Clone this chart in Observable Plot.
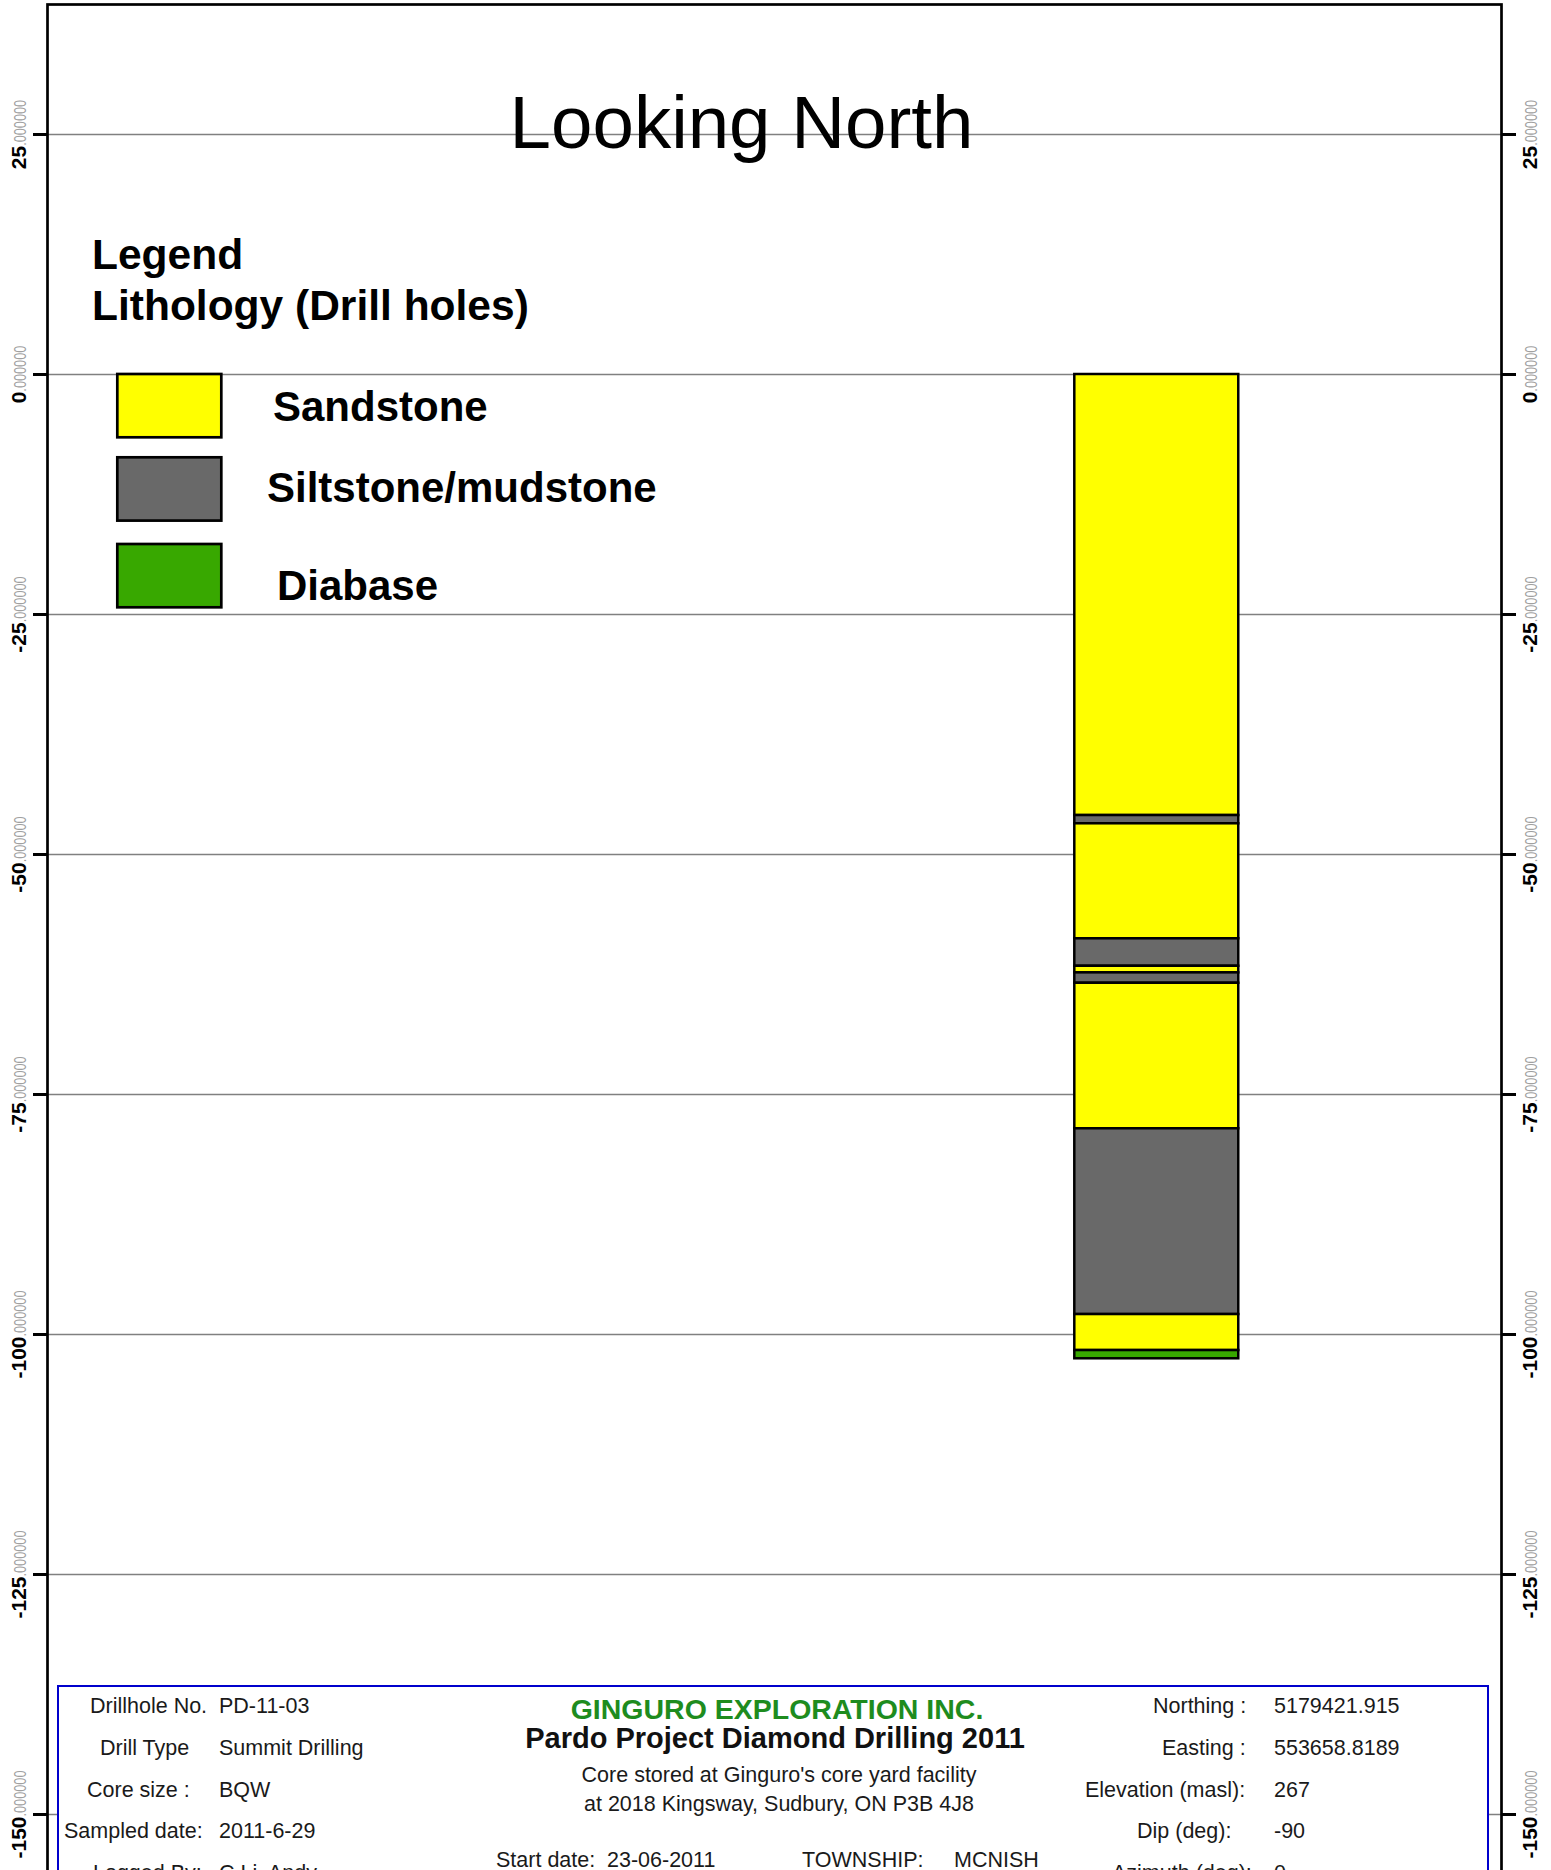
<!DOCTYPE html>
<html>
<head>
<meta charset="utf-8">
<script src="https://cdn.jsdelivr.net/npm/d3@7"></script>
<script src="https://cdn.jsdelivr.net/npm/@observablehq/plot@0.6"></script>
<style>
  html, body { margin: 0; padding: 0; overflow: hidden; background: white; }
  #wrap { position: relative; width: 1551px; height: 1870px; overflow: hidden; background: white; }
  #wrap > svg { position: absolute; left: 0; top: 0; }
  #overlay { pointer-events: none; }
</style>
</head>
<body>
<div id="wrap"></div>
<script>
// ---------- data ----------
const yTicks = [25, 0, -25, -50, -75, -100, -125, -150];
const lithNames = ["Sandstone", "Siltstone/mudstone", "Diabase"];
const lithColors = ["#ffff00", "#696969", "#38a800"];

// drill-hole intervals (depth in m below collar)
const fromDepth = [0, 45.94, 46.8, 58.78, 61.64, 62.33, 63.41, 78.57, 97.92, 101.67];
const toDepth   = [45.94, 46.8, 58.78, 61.64, 62.33, 63.41, 78.57, 97.92, 101.67, 102.53];
const intervalLith = ["Sandstone", "Siltstone/mudstone", "Sandstone", "Siltstone/mudstone",
  "Sandstone", "Siltstone/mudstone", "Sandstone", "Siltstone/mudstone", "Sandstone", "Diabase"];
const holeOffset = 115.55; // along-section position of the hole (m)

const titleText = "Looking North";
const legendTitle = ["Legend", "Lithology (Drill holes)"];

const infoLeftLabels = ["Drillhole No.", "Drill Type", "Core size :", "Sampled date:", "Logged By:"];
const infoLeftValues = ["PD-11-03", "Summit Drilling", "BQW", "2011-6-29", "C.Li, Andy"];
const infoRightLabels = ["Northing :", "Easting :", "Elevation (masl):", "Dip (deg):", "Azimuth (deg):"];
const infoRightValues = ["5179421.915", "553658.8189", "267", "-90", "0"];
const companyName = "GINGURO EXPLORATION INC.";
const projectName = "Pardo Project Diamond Drilling 2011";
const storageLines = ["Core stored at Ginguro's core yard facility", "at 2018 Kingsway, Sudbury, ON P3B 4J8"];
const startDate = ["Start date:", "23-06-2011"];
const township = ["TOWNSHIP:", "MCNISH"];

// ---------- chart ----------
const intervals = fromDepth.map((f, i) => ({from: f, to: toDepth[i], lith: intervalLith[i]}));
const barHalf = 8.54;
const FONT = "'Liberation Sans', Arial, Helvetica, sans-serif";

const chart = Plot.plot({
  width: 1551,
  height: 1900,
  marginTop: 4,
  marginBottom: 0,
  marginLeft: 47,
  marginRight: 50,
  style: {fontFamily: FONT, background: "white", color: "black", overflow: "visible"},
  x: {domain: [0, 151.458], axis: null},
  y: {domain: [-158.958, 38.5417]},
  color: {domain: lithNames, range: lithColors},
  marks: [
    Plot.ruleY(yTicks, {stroke: "#808080", strokeWidth: 1.3}),
    Plot.rect(intervals, {
      x1: () => holeOffset - barHalf,
      x2: () => holeOffset + barHalf,
      y1: d => -d.from,
      y2: d => -d.to,
      fill: "lith",
      stroke: "black",
      strokeWidth: 2.5
    }),
    Plot.frame({stroke: "black", strokeWidth: 2.7}),
    Plot.axisY({ticks: yTicks, anchor: "left", tickSize: 14, strokeWidth: 3, tickFormat: () => "", label: null}),
    Plot.axisY({ticks: yTicks, anchor: "right", tickSize: 14, strokeWidth: 3, tickFormat: () => "", label: null}),
    Plot.text(yTicks, {y: d => d, frameAnchor: "left", dx: -28.7, rotate: -90,
      text: d => `${d}.000000`, textAnchor: "middle", lineAnchor: "middle",
      fontSize: 21, fontWeight: "bold", fill: "black"}),
    Plot.text(yTicks, {y: d => d, frameAnchor: "right", dx: 28.3, rotate: -90,
      text: d => `${d}.000000`, textAnchor: "middle", lineAnchor: "middle",
      fontSize: 21, fontWeight: "bold", fill: "black"})
  ]
});

document.getElementById("wrap").appendChild(chart);

// split tick labels: bold integer part + light narrow decimals
const NS = "http://www.w3.org/2000/svg";
chart.querySelectorAll("text").forEach(t => {
  const s = t.textContent;
  if (!/^-?\d+\.000000$/.test(s)) return;
  const k = s.indexOf(".");
  const a = s.slice(0, k), b = s.slice(k);
  while (t.firstChild) t.removeChild(t.firstChild);
  const t1 = document.createElementNS(NS, "tspan");
  t1.textContent = a;
  const t2 = document.createElementNS(NS, "tspan");
  t2.textContent = b;
  t2.setAttribute("font-weight", "normal");
  t2.setAttribute("font-size", "16");
  t2.setAttribute("fill", "#a0a0a0");
  t2.setAttribute("font-family", "'Liberation Sans Narrow', 'Liberation Sans', Arial, sans-serif");
  t2.setAttribute("textLength", "46");
  t2.setAttribute("lengthAdjust", "spacingAndGlyphs");
  t.appendChild(t1);
  t.appendChild(t2);
});

// ---------- overlay: title, legend, info block ----------
const ov = d3.select("#wrap").append("svg")
  .attr("id", "overlay")
  .attr("width", 1551).attr("height", 1870)
  .style("font-family", FONT);

ov.append("text").attr("x", 741.5).attr("y", 148).attr("text-anchor", "middle")
  .attr("font-size", 74.5).attr("fill", "black").text(titleText);

// legend
const lg = ov.append("g").attr("font-weight", "bold").attr("fill", "black");
lg.append("text").attr("x", 92).attr("y", 269).attr("font-size", 42.5).text(legendTitle[0]);
lg.append("text").attr("x", 92).attr("y", 320).attr("font-size", 42.5).text(legendTitle[1]);
const swatchTop = [374, 457.3, 544];
const labelX = [273, 267, 277];
const labelY = [421, 502, 600];
lithNames.forEach((n, i) => {
  lg.append("rect").attr("x", 117.3).attr("y", swatchTop[i]).attr("width", 104).attr("height", 63.3)
    .attr("fill", lithColors[i]).attr("stroke", "black").attr("stroke-width", 2.7);
  lg.append("text").attr("x", labelX[i]).attr("y", labelY[i]).attr("font-size", 42).text(n);
});

// info block
const ib = ov.append("g");
ib.append("rect").attr("x", 58).attr("y", 1686).attr("width", 1430).attr("height", 300)
  .attr("fill", "white").attr("stroke", "#0000cc").attr("stroke-width", 2);
const rowY = [1713, 1755, 1797, 1838, 1880];
const leftLabelX = [90, 100, 87, 64, 93];
const rightLabelX = [1153, 1162, 1085, 1137, 1112];
const txt = ib.append("g").attr("font-size", 21.5).attr("fill", "#1a1a1a");
infoLeftLabels.forEach((s, i) => {
  txt.append("text").attr("x", leftLabelX[i]).attr("y", rowY[i]).text(s);
  txt.append("text").attr("x", 219).attr("y", rowY[i]).text(infoLeftValues[i]);
});
infoRightLabels.forEach((s, i) => {
  txt.append("text").attr("x", rightLabelX[i]).attr("y", rowY[i]).text(s);
  txt.append("text").attr("x", 1274).attr("y", rowY[i]).text(infoRightValues[i]);
});
ib.append("text").attr("x", 777).attr("y", 1719).attr("text-anchor", "middle")
  .attr("font-size", 28.5).attr("font-weight", "bold").attr("fill", "#1e8c1e").text(companyName);
ib.append("text").attr("x", 775).attr("y", 1748).attr("text-anchor", "middle")
  .attr("font-size", 29).attr("font-weight", "bold").attr("fill", "#111").text(projectName);
txt.append("text").attr("x", 779).attr("y", 1782).attr("text-anchor", "middle").text(storageLines[0]);
txt.append("text").attr("x", 779).attr("y", 1811).attr("text-anchor", "middle").text(storageLines[1]);
txt.append("text").attr("x", 496).attr("y", 1867).text(startDate[0]);
txt.append("text").attr("x", 607).attr("y", 1867).text(startDate[1]);
txt.append("text").attr("x", 802).attr("y", 1867).text(township[0]);
txt.append("text").attr("x", 954).attr("y", 1867).text(township[1]);
</script>
</body>
</html>
